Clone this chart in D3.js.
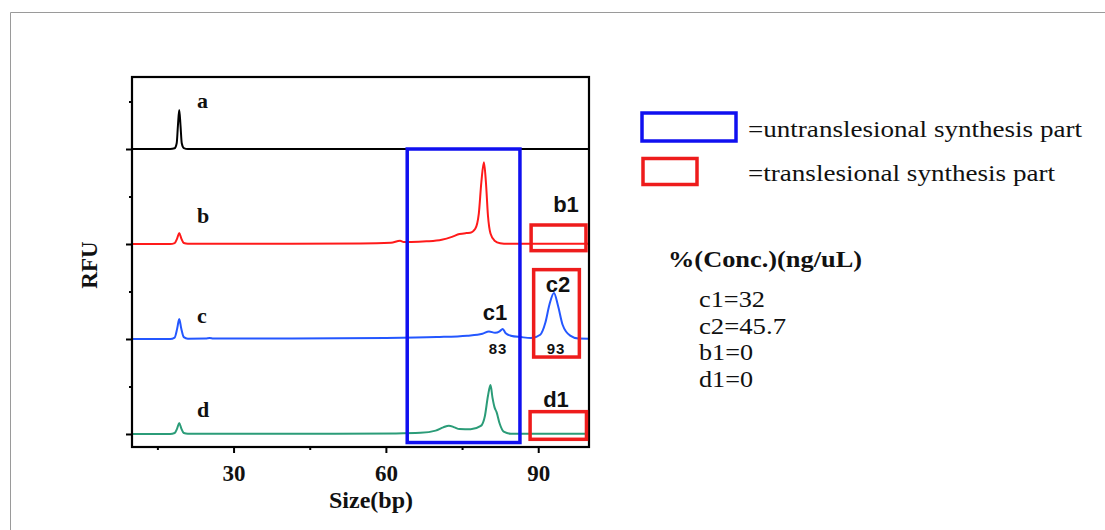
<!DOCTYPE html>
<html>
<head>
<meta charset="utf-8">
<script src="https://cdn.jsdelivr.net/npm/d3@7"></script>
<style>
  body { margin: 0; background: #fff; }
  svg { display: block; }
  .serif { font-family: "Liberation Serif", "Times New Roman", serif; }
  .sans { font-family: "Liberation Sans", Arial, sans-serif; }
</style>
</head>
<body>
<svg id="chart" width="1105" height="530"></svg>
<script>
// Electropherogram traces: [size (bp), RFU above lane baseline]
const traceA = [[10, 0], [17.5, 0], [18.4, 8], [18.8, 60], [19.05, 250], [19.3, 410], [19.55, 250],
  [19.8, 60], [20.2, 10], [21, 0], [100, 0]];
const traceB = [[10, 0], [17.5, 0], [18.4, 10], [18.9, 60], [19.3, 115], [19.7, 60], [20.2, 10],
  [21, 2], [40, 3], [55, 5], [61, 12], [62.8, 35], [63.5, 22], [65, 22], [68, 28], [71, 45],
  [73, 75], [74.5, 105], [75.8, 115], [76.6, 118], [77.6, 160], [78.3, 320], [78.8, 650],
  [79.3, 860], [79.7, 650], [80.1, 300], [80.6, 110], [81.4, 35], [82.5, 8], [84, 2], [100, 2]];
const traceC = [[10, 0], [17.5, 0], [18.4, 15], [18.9, 110], [19.3, 210], [19.7, 110], [20.2, 20],
  [21, 3], [24.5, 4], [25.3, 10], [26, 4], [40, 5], [60, 10], [70, 20], [76, 35], [79, 55],
  [80.3, 80], [81.5, 65], [82.4, 80], [83, 105], [83.6, 60], [84.6, 35], [86.6, 20], [88.6, 10],
  [90.4, 45], [91.4, 170], [92.2, 360], [93.1, 485], [93.9, 350], [94.8, 150], [96.3, 35],
  [97.9, 5], [100, 3]];
const traceD = [[10, 0], [17.5, 0], [18.4, 10], [18.9, 60], [19.3, 115], [19.7, 60], [20.2, 10],
  [21, 2], [50, 3], [62, 6], [66.8, 12], [69.8, 35], [71.3, 70], [72.4, 88], [73.5, 70],
  [74.5, 52], [76.7, 50], [78.7, 85], [79.5, 190], [80.1, 400], [80.6, 515], [81.0, 380],
  [81.4, 280], [81.8, 230], [82.4, 110], [83.2, 25], [84.6, 3], [100, 3]];

const laneNames = ['a', 'b', 'c', 'd'];
const laneOffsets = [3000, 2000, 1000, 0];
const laneColors = ['#000000', '#ff1a1a', '#2457ff', '#2b9c78'];

const xTicks = [30, 60, 90];
const xMinorTicks = [15, 45, 75];
const yTicks = [0, 1000, 2000, 3000];
const yMinorTicks = [500, 1500, 2500, 3500];

// Highlight boxes: [x0, x1, y0, y1] in data units
const untransBox = [64.2, 86.4, -90, 3000];
const transBoxes = [
  { name: 'b1', box: [88.6, 99.4, 1930, 2200] },
  { name: 'c2', box: [89.1, 98.1, 810, 1730] },
  { name: 'd1', box: [88.4, 99.5, -56, 235] }
];

const legendTexts = ['=untranslesional synthesis part', '=translesional synthesis part'];
const concTitle = '%(Conc.)(ng/uL)';
const concLines = ['c1=32', 'c2=45.7', 'b1=0', 'd1=0'];

const svg = d3.select('#chart');
const plotLeft = 132, plotRight = 589, plotTop = 77, plotBottom = 447;

const x = d3.scaleLinear().domain([10, 100]).range([plotLeft, plotRight]);
const y = d3.scaleLinear().domain([-137, 3758]).range([plotBottom, plotTop]);

// Outer grey frame
svg.append('path')
  .attr('d', 'M10.5,530 L10.5,12.5 L1105,12.5')
  .attr('fill', 'none')
  .attr('stroke', '#9a9a9a')
  .attr('stroke-width', 1);

// Traces
const traces = [traceA, traceB, traceC, traceD];
const line = d3.line().curve(d3.curveMonotoneX);
traces.forEach((t, i) => {
  svg.append('path')
    .attr('d', line(t.map(d => [x(d[0]), y(d[1] + laneOffsets[i])])))
    .attr('fill', 'none')
    .attr('stroke', laneColors[i])
    .attr('stroke-width', 2);
});

// Axes
const xAxis = svg.append('g').attr('transform', `translate(0,${plotBottom})`)
  .call(d3.axisBottom(x).tickValues(xTicks).tickSize(6).tickPadding(6));
svg.append('g').attr('transform', `translate(0,${plotBottom})`)
  .call(d3.axisBottom(x).tickValues(xMinorTicks).tickSize(3).tickFormat(''));
svg.append('g').attr('transform', `translate(${plotLeft},0)`)
  .call(d3.axisLeft(y).tickValues(yTicks).tickSize(6).tickFormat(''));
svg.append('g').attr('transform', `translate(${plotLeft},0)`)
  .call(d3.axisLeft(y).tickValues(yMinorTicks).tickSize(3).tickFormat(''));
svg.selectAll('.domain').remove();
svg.selectAll('.tick line').attr('stroke', '#000').attr('stroke-width', 2);
xAxis.selectAll('.tick text')
  .attr('class', 'serif')
  .attr('font-size', 23)
  .attr('font-weight', 'bold')
  .attr('fill', '#111')
  .attr('dy', '0.95em');

// Plot frame
svg.append('rect')
  .attr('x', plotLeft).attr('y', plotTop)
  .attr('width', plotRight - plotLeft).attr('height', plotBottom - plotTop)
  .attr('fill', 'none')
  .attr('stroke', '#000')
  .attr('stroke-width', 2.2);

// Boxes
svg.append('rect')
  .attr('x', x(untransBox[0])).attr('y', y(untransBox[3]))
  .attr('width', x(untransBox[1]) - x(untransBox[0]))
  .attr('height', y(untransBox[2]) - y(untransBox[3]))
  .attr('fill', 'none')
  .attr('stroke', '#1010f0')
  .attr('stroke-width', 3.5);
svg.selectAll('.tbox').data(transBoxes).join('rect')
  .attr('class', 'tbox')
  .attr('x', d => x(d.box[0])).attr('y', d => y(d.box[3]))
  .attr('width', d => x(d.box[1]) - x(d.box[0]))
  .attr('height', d => y(d.box[2]) - y(d.box[3]))
  .attr('fill', 'none')
  .attr('stroke', '#ee1c1c')
  .attr('stroke-width', 3.5);

// Lane letters
const laneLabelY = [108, 223, 323, 417];
svg.selectAll('.lane').data(laneNames).join('text')
  .attr('class', 'lane serif')
  .attr('x', 197)
  .attr('y', (d, i) => laneLabelY[i])
  .attr('font-size', 22)
  .attr('font-weight', 'bold')
  .attr('fill', '#111')
  .text(d => d);

// Peak labels
const peakLabels = [
  { t: 'b1', cx: 566, by: 212, fs: 22 },
  { t: 'c2', cx: 558, by: 292, fs: 22 },
  { t: 'c1', cx: 495, by: 320, fs: 22 },
  { t: 'd1', cx: 556, by: 407, fs: 22 },
  { t: '83', cx: 498, by: 354, fs: 15 },
  { t: '93', cx: 556, by: 354, fs: 15 }
];
svg.selectAll('.plab').data(peakLabels).join('text')
  .attr('class', 'plab sans')
  .attr('x', d => d.cx)
  .attr('y', d => d.by)
  .attr('text-anchor', 'middle')
  .attr('font-size', d => d.fs)
  .attr('font-weight', 'bold')
  .attr('letter-spacing', d => d.fs < 16 ? 1 : 0)
  .attr('fill', '#111')
  .text(d => d.t);

// Axis titles
svg.append('text')
  .attr('class', 'serif')
  .attr('x', 371).attr('y', 508)
  .attr('text-anchor', 'middle')
  .attr('font-size', 24)
  .attr('font-weight', 'bold')
  .attr('fill', '#111')
  .text('Size(bp)');
svg.append('text')
  .attr('class', 'serif')
  .attr('transform', 'translate(97,265) rotate(-90)')
  .attr('text-anchor', 'middle')
  .attr('font-size', 23)
  .attr('font-weight', 'bold')
  .attr('fill', '#111')
  .text('RFU');

// Legend
svg.append('rect')
  .attr('x', 642).attr('y', 113).attr('width', 94).attr('height', 28)
  .attr('fill', 'none').attr('stroke', '#1010f0').attr('stroke-width', 3.5);
svg.append('rect')
  .attr('x', 643).attr('y', 158.5).attr('width', 54).attr('height', 26)
  .attr('fill', 'none').attr('stroke', '#ee1c1c').attr('stroke-width', 3.5);
const legendY = [137, 181];
const legendW = [334, 307];
svg.selectAll('.leg').data(legendTexts).join('text')
  .attr('class', 'leg serif')
  .attr('x', 748)
  .attr('y', (d, i) => legendY[i])
  .attr('font-size', 24)
  .attr('textLength', (d, i) => legendW[i])
  .attr('lengthAdjust', 'spacingAndGlyphs')
  .attr('fill', '#111')
  .text(d => d);

svg.append('text')
  .attr('class', 'serif')
  .attr('x', 668).attr('y', 267)
  .attr('font-size', 24)
  .attr('font-weight', 'bold')
  .attr('textLength', 194)
  .attr('lengthAdjust', 'spacingAndGlyphs')
  .attr('fill', '#111')
  .text(concTitle);
const concW = [66, 87, 54, 54];
svg.selectAll('.conc').data(concLines).join('text')
  .attr('class', 'conc serif')
  .attr('x', 699)
  .attr('y', (d, i) => 307 + i * 26.6)
  .attr('font-size', 23)
  .attr('textLength', (d, i) => concW[i])
  .attr('lengthAdjust', 'spacingAndGlyphs')
  .attr('fill', '#111')
  .text(d => d);
</script>
</body>
</html>
